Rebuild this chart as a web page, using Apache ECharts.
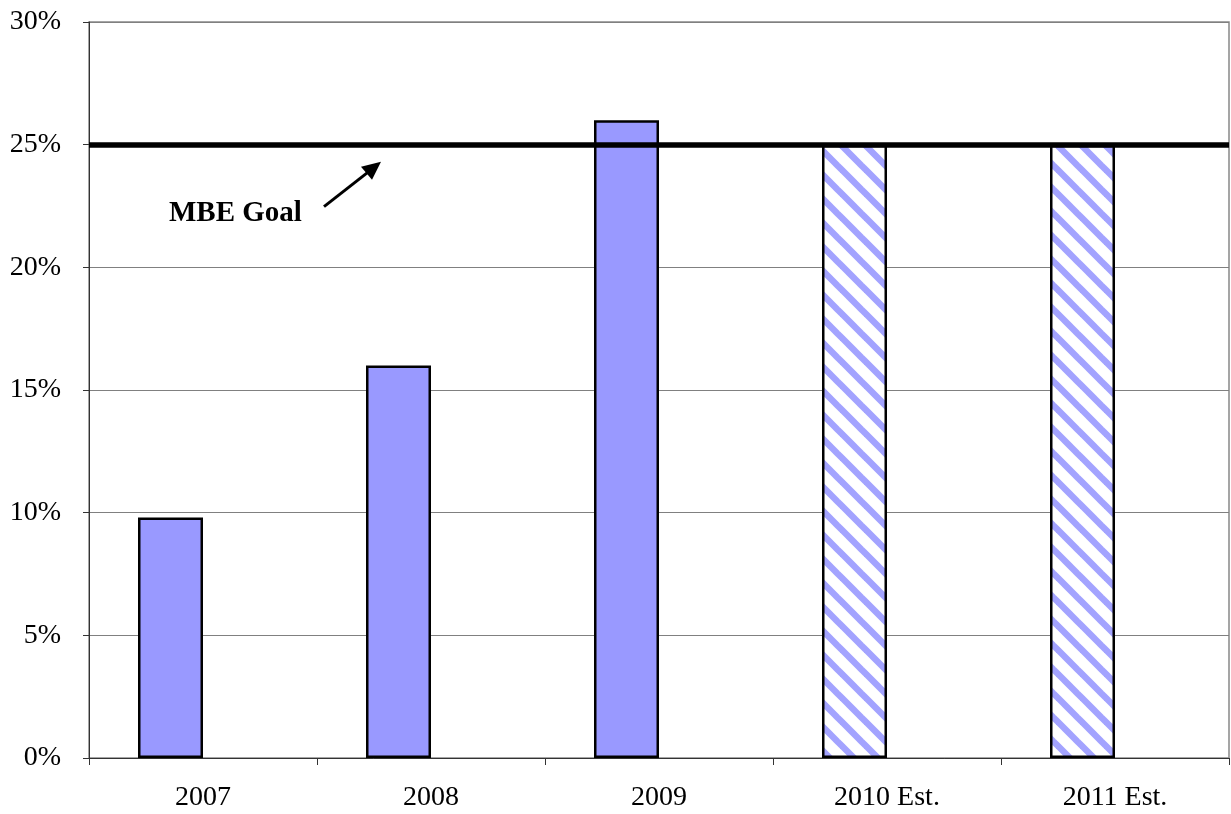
<!DOCTYPE html>
<html>
<head>
<meta charset="utf-8">
<style>
  html, body { margin: 0; padding: 0; background: #ffffff; }
  #chart { width: 1231px; height: 814px; }
</style>
<script src="https://cdn.jsdelivr.net/npm/echarts@6/dist/echarts.min.js"></script>
</head>
<body>
<div id="chart"></div>
<script>
// Share of spending, by year (percent)
const categories = ['2007', '2008', '2009', '2010 Est.', '2011 Est.'];
const actualValues = [9.8, 16, 26, 25, 25];
const estimated = [false, false, false, true, true];
const goalValue = 25;
const goalLabel = 'MBE Goal';
const yTicks = { min: 0, max: 30, interval: 5 };

const BAR_BLUE = '#9999ff';

// Diagonal hatch used for estimated years
function makeHatch() {
  const s = 24;
  const c = document.createElement('canvas');
  c.width = s; c.height = s;
  const g = c.getContext('2d');
  g.fillStyle = '#ffffff';
  g.fillRect(0, 0, s, s);
  g.strokeStyle = '#a3a3ff';
  g.lineWidth = 6.5;
  for (const o of [-s, 0, s]) {
    g.beginPath();
    g.moveTo(-s + o, -s);
    g.lineTo(2 * s + o, 2 * s);
    g.stroke();
  }
  return c;
}
const hatch = makeHatch();

const chart = echarts.init(document.getElementById('chart'), null, { renderer: 'canvas' });

const barData = actualValues.map((v, i) => ({
  value: v,
  itemStyle: estimated[i]
    ? { color: { image: hatch, repeat: 'repeat' } }
    : { color: BAR_BLUE }
}));
// Empty companion series keeps each bar left of its category centre
const spacerData = categories.map(() => null);

const FONT = '"Liberation Serif", "DejaVu Serif", serif';

chart.setOption({
  backgroundColor: '#ffffff',
  animation: false,
  grid: {
    left: 89, right: 2, top: 22, bottom: 56,
    show: true, borderColor: '#888888', borderWidth: 1.5,
    backgroundColor: 'transparent'
  },
  xAxis: {
    type: 'category',
    data: categories,
    axisLine: { lineStyle: { color: '#333333', width: 1 } },
    axisTick: { show: true, alignWithLabel: false, length: 7, lineStyle: { color: '#333333' } },
    axisLabel: { color: '#000000', fontFamily: FONT, fontSize: 28, margin: 26 }
  },
  yAxis: {
    type: 'value',
    min: yTicks.min, max: yTicks.max, interval: yTicks.interval,
    axisLine: { show: true, lineStyle: { color: '#333333', width: 1 } },
    axisTick: { show: true, length: 6, lineStyle: { color: '#333333' } },
    axisLabel: { color: '#000000', fontFamily: FONT, fontSize: 28, margin: 28, formatter: '{value}%' },
    splitLine: { show: true, lineStyle: { color: '#808080', width: 1 } }
  },
  series: [{
    type: 'bar',
    data: barData,
    barWidth: 65,
    barGap: '0%',
    itemStyle: { borderColor: '#000000', borderWidth: 2.5 },
    markLine: {
      silent: true,
      symbol: ['none', 'none'],
      label: { show: false },
      lineStyle: { color: '#000000', width: 5.5, type: 'solid' },
      data: [{ yAxis: goalValue }]
    }
  }, {
    type: 'bar',
    data: spacerData,
    barWidth: 65,
    barGap: '0%',
    silent: true
  }]
});

// Goal annotation: label with an arrow pointing at the goal line
function placeAnnotation() {
  const yGoal = chart.convertToPixel({ yAxisIndex: 0 }, goalValue);
  const tipY = yGoal + 17;
  const tailY = yGoal + 62;
  chart.setOption({
    graphic: [
      {
        type: 'text',
        left: 169, top: tailY - 8,
        style: { text: goalLabel, font: 'bold 29px ' + FONT, fill: '#000000', textVerticalAlign: 'middle' }
      },
      {
        type: 'line',
        shape: { x1: 324, y1: tailY, x2: 370, y2: tipY + 9 },
        style: { stroke: '#000000', lineWidth: 3 }
      },
      {
        type: 'polygon',
        shape: { points: [[381, tipY], [361, tipY + 5], [372, tipY + 18]] },
        style: { fill: '#000000' }
      }
    ]
  });
}
placeAnnotation();
</script>
</body>
</html>
